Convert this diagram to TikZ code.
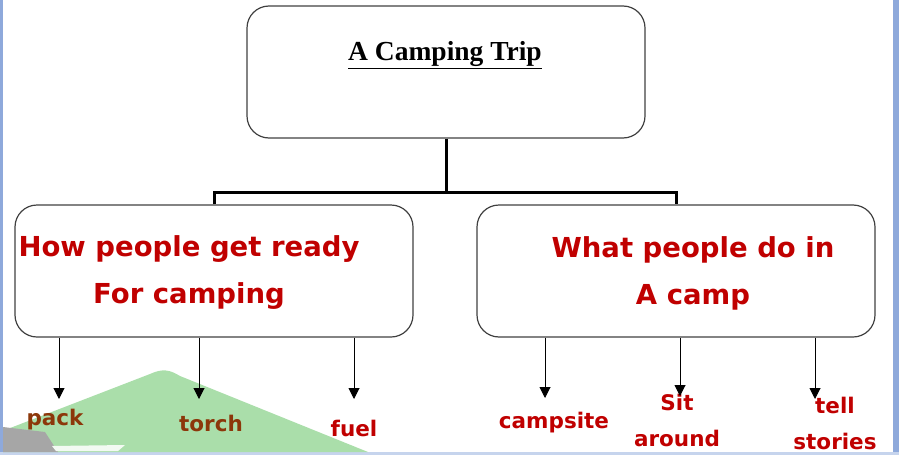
\documentclass[tikz,border=0pt]{standalone}
\usepackage{fontspec}
\setmainfont{Liberation Serif}
\newfontfamily\comicfont{DejaVu Sans}
\usetikzlibrary{arrows,arrows.meta,positioning,calc}
\definecolor{headred}{RGB}{192,0,0}
\definecolor{leafbrown}{RGB}{140,55,10}
\definecolor{slideblue}{RGB}{142,169,219}
\definecolor{hillgreen}{RGB}{170,222,170}
\tikzstyle{topic}=[rectangle, draw=black!75, line width=1.2pt, rounded corners=22pt, minimum width=398pt, minimum height=132pt]
\tikzstyle{heading}=[font=\comicfont\bfseries\fontsize{27.5}{47}\selectfont, text=headred, align=center]
\tikzstyle{leaf}=[font=\comicfont\bfseries\fontsize{21.5}{36}\selectfont, text=headred, align=center, inner sep=0pt]
\tikzstyle{tree}=[line width=3pt]
\tikzstyle{down}=[-{Triangle[width=11pt,length=11pt]}, line width=1pt]
\begin{document}
\begin{tikzpicture}[x=1pt, y=-1pt]
				\useasboundingbox (0,0) rectangle (899,455);
				% slide background
				\fill[slideblue] (0,0) rectangle (3,455);
				\fill[slideblue] (893,0) rectangle (899,455);
				\fill[slideblue!50] (0,452) rectangle (899,455);
				\fill[hillgreen] (5,430) -- (150,374) .. controls (163,368) and (170,370) .. (180,376) -- (368,452) -- (3,452) -- cycle;
				\fill[gray!70] (3,427) -- (45,432) -- (58,452) -- (3,452) -- cycle;
				\fill[white!85!hillgreen] (52,446) -- (125,445) -- (118,451) -- (56,451) -- cycle;
				% boxes
				\node[topic](trip)at(446,72){};
				\node[font=\bfseries\fontsize{27.5}{30}\selectfont](title)at(445,55){\underline{A Camping Trip}};
				\node[topic](ready)at(214,271){};
				\node[topic](doing)at(676,271){};
				\node[heading](readytxt)at(189,273){How people get ready\\For camping};
				\node[heading](doingtxt)at(693,273){What people do in\\A camp};
				\coordinate(fork)at(446,192);
				\draw[tree](trip.south)--(fork);
				\draw[tree](ready.north)|-(fork)-|(doing.north);
				% leaves
				\coordinate(packtip)at(59,399);
				\coordinate(torchtip)at(199,399);
				\coordinate(fueltip)at(354,399);
				\coordinate(sitetip)at(545,398);
				\coordinate(sittip)at(680,396);
				\coordinate(telltip)at(815,399);
				\node[leaf, text=leafbrown](pack)at(55,420){pack};
				\node[leaf, text=leafbrown](torch)at(211,423){torch};
				\node[leaf](fuel)at(354,428){fuel};
				\node[leaf](campsite)at(554,423){campsite};
				\node[leaf](sit)at(677,420){Sit\\around};
				\node[leaf](tell)at(835,423){tell\\stories};
				\draw[down](packtip|-ready.south)--(packtip);
				\draw[down](torchtip|-ready.south)--(torchtip);
				\draw[down](fueltip|-ready.south)--(fueltip);
				\draw[down](sitetip|-doing.south)--(sitetip);
				\draw[down](sittip|-doing.south)--(sittip);
				\draw[down](telltip|-doing.south)--(telltip);
			\end{tikzpicture}
\end{document}
